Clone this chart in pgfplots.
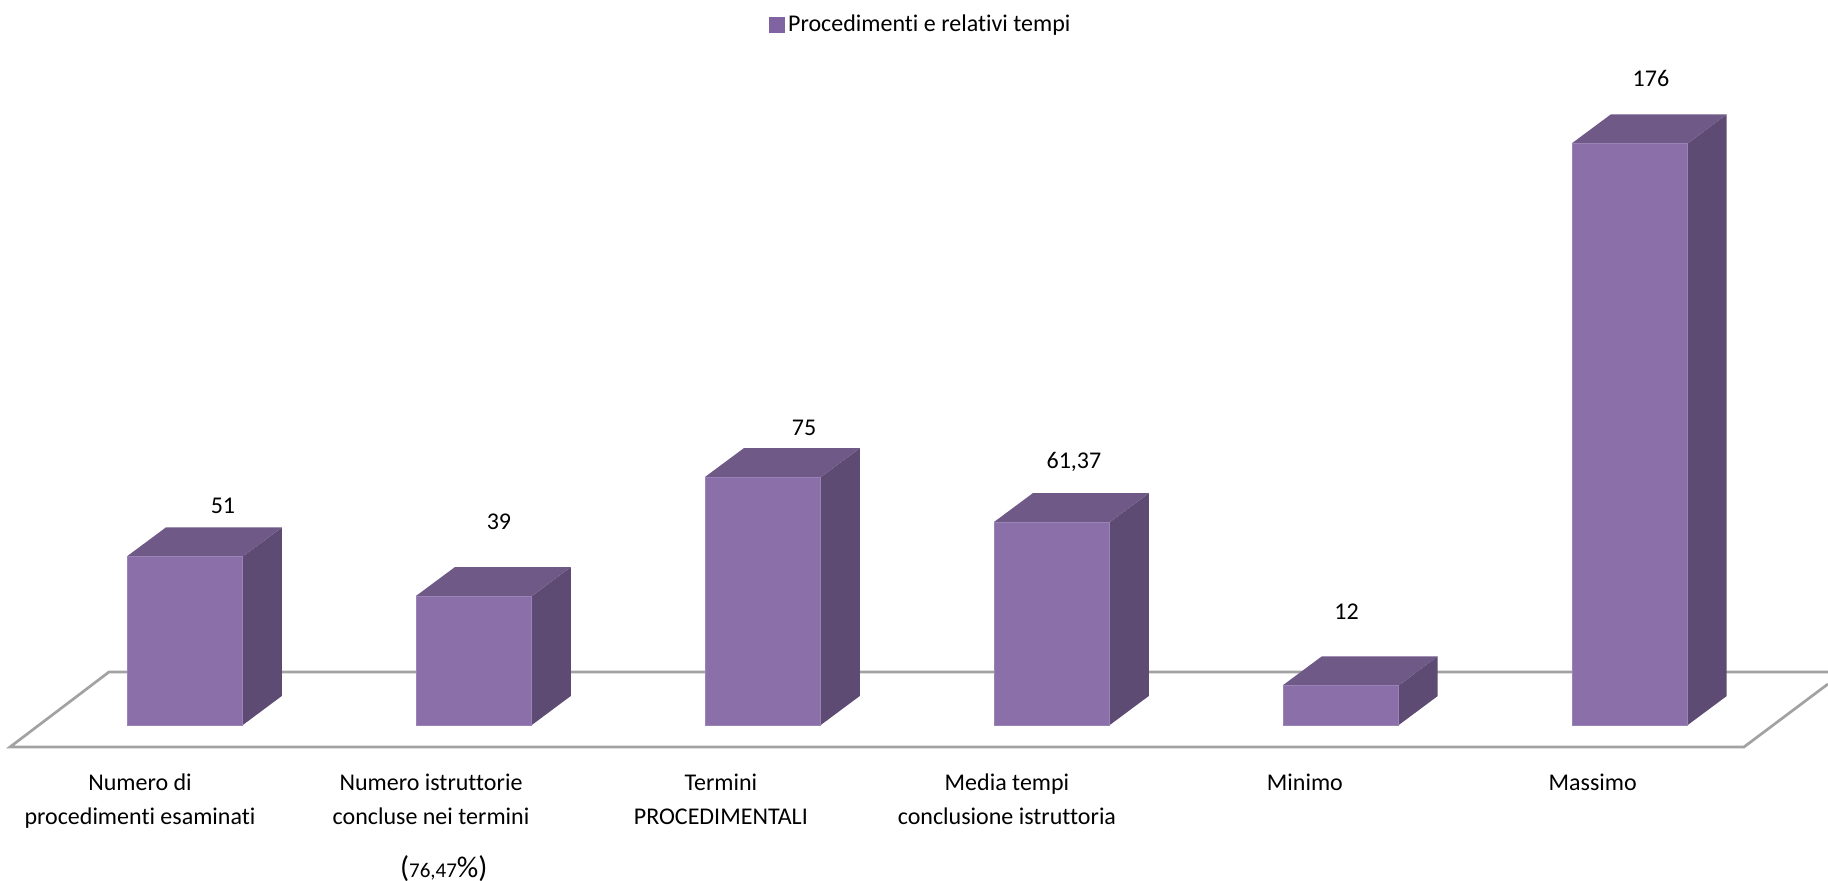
\documentclass[border=0pt]{standalone}
\usepackage{fontspec}
\setmainfont{Carlito}[Ligatures=NoCommon]
\usepackage{pgfplots}
\pgfplotsset{compat=1.18}
\definecolor{barfront}{HTML}{8B6FA8}
\definecolor{bartop}{HTML}{6F5987}
\definecolor{barside}{HTML}{5E4B73}
\definecolor{baredge}{HTML}{9A83B6}
\definecolor{legsw}{HTML}{8064A2}
\definecolor{floorc}{HTML}{A2A2A2}
\newcommand{\lab}{\fontsize{12}{17}\selectfont}
\begin{document}
\begin{tikzpicture}
\useasboundingbox (0,0) rectangle (914pt,440.5pt);
\begin{axis}[
  at={(0,0)}, anchor=south west,
  scale only axis, width=914pt, height=440.5pt,
  xmin=-0.6394, xmax=5.686, ymin=-47.2, ymax=219.4,
  axis line style={draw=none},
  ytick=\empty,
  xtick={-0.155,0.852,1.855,2.845,3.876,4.872},
  xticklabels={
    {Numero di\\procedimenti esaminati},
    {Numero istruttorie\\concluse nei termini\\[9.5pt]\hspace*{12.8pt}{\fontsize{15}{13}\selectfont(}{\fontsize{10.5}{13}\selectfont 76,47}{\fontsize{15}{13}\selectfont\%)}},
    {Termini\\PROCEDIMENTALI},
    {Media tempi\\conclusione istruttoria},
    {Minimo},
    {Massimo}},
  major tick length=0pt,
  x tick label style={align=center, anchor=north, font=\lab, yshift=57pt},
  legend cell align=left,
  legend style={at={(921.5/1828,1-24.5/881)}, anchor=center, draw=none, fill=none, font=\lab, inner sep=0pt},
  legend image code/.code={\fill[legsw] (-1.5pt,-3.7pt) rectangle (6pt,3.7pt);},
  every axis plot/.append style={line join=miter},
]
% floor
\addplot[floorc, line width=1.35pt, mark=none, forget plot] coordinates {(5.686,16.04) (-0.2623,16.04) (-0.6048,-6.66) (5.395,-6.66) (5.686,12.41)};
% side faces
\addplot[fill=barside, draw=none, mark=none, forget plot] coordinates {(0.2007,0) (0.3356,8.77) (0.3356,59.77) (0.2007,51) (0.2007,0)};
\addplot[fill=barside, draw=none, mark=none, forget plot] coordinates {(1.2007,0) (1.3356,8.77) (1.3356,47.77) (1.2007,39) (1.2007,0)};
\addplot[fill=barside, draw=none, mark=none, forget plot] coordinates {(2.2007,0) (2.3356,8.77) (2.3356,83.77) (2.2007,75) (2.2007,0)};
\addplot[fill=barside, draw=none, mark=none, forget plot] coordinates {(3.2007,0) (3.3356,8.77) (3.3356,70.14) (3.2007,61.37) (3.2007,0)};
\addplot[fill=barside, draw=none, mark=none, forget plot] coordinates {(4.2007,0) (4.3356,8.77) (4.3356,20.77) (4.2007,12) (4.2007,0)};
\addplot[fill=barside, draw=none, mark=none, forget plot] coordinates {(5.2007,0) (5.3356,8.77) (5.3356,184.77) (5.2007,176) (5.2007,0)};
% top faces
\addplot[fill=bartop, draw=none, mark=none, forget plot] coordinates {(-0.2007,51) (0.2007,51) (0.3356,59.77) (-0.0657,59.77) (-0.2007,51)};
\addplot[fill=bartop, draw=none, mark=none, forget plot] coordinates {(0.7993,39) (1.2007,39) (1.3356,47.77) (0.9343,47.77) (0.7993,39)};
\addplot[fill=bartop, draw=none, mark=none, forget plot] coordinates {(1.7993,75) (2.2007,75) (2.3356,83.77) (1.9343,83.77) (1.7993,75)};
\addplot[fill=bartop, draw=none, mark=none, forget plot] coordinates {(2.7993,61.37) (3.2007,61.37) (3.3356,70.14) (2.9343,70.14) (2.7993,61.37)};
\addplot[fill=bartop, draw=none, mark=none, forget plot] coordinates {(3.7993,12) (4.2007,12) (4.3356,20.77) (3.9343,20.77) (3.7993,12)};
\addplot[fill=bartop, draw=none, mark=none, forget plot] coordinates {(4.7993,176) (5.2007,176) (5.3356,184.77) (4.9343,184.77) (4.7993,176)};
% front faces
\addplot[ybar, bar width=57.5pt, bar shift=0pt, fill=barfront, draw=baredge, line width=0.3pt] coordinates {(0,51) (1,39) (2,75) (3,61.37) (4,12) (5,176)};
\addlegendentry{Procedimenti e relativi tempi}
% value labels
\node[font=\lab] at (axis cs:0.1322,66.3) {51};
\node[font=\lab] at (axis cs:1.0872,61.5) {39};
\node[font=\lab] at (axis cs:2.1427,89.8) {75};
\node[font=\lab] at (axis cs:3.0767,79.6) {61,37};
\node[font=\lab] at (axis cs:4.0203,34.2) {12};
\node[font=\lab] at (axis cs:5.0734,195.5) {176};
\end{axis}
\end{tikzpicture}
\end{document}
